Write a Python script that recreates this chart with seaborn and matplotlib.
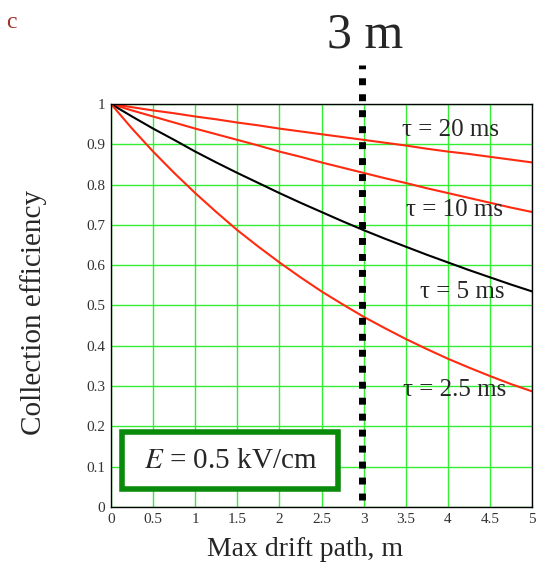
import pandas as pd
import seaborn as sns
import matplotlib.pyplot as plt
from matplotlib.patches import Rectangle

# values
drift = [0, 0.25, 0.5, 0.75, 1, 1.25, 1.5, 1.75, 2, 2.25, 2.5,
         2.75, 3, 3.25, 3.5, 3.75, 4, 4.25, 4.5, 4.75, 5]
eff_20ms = [1, 0.992, 0.984, 0.977, 0.969, 0.962, 0.954, 0.947, 0.939, 0.932, 0.925,
            0.918, 0.911, 0.904, 0.897, 0.889, 0.882, 0.876, 0.869, 0.862, 0.855]
eff_10ms = [1, 0.984, 0.969, 0.954, 0.939, 0.925, 0.911, 0.897, 0.882, 0.869, 0.855,
            0.842, 0.829, 0.816, 0.804, 0.791, 0.779, 0.767, 0.755, 0.743, 0.732]
eff_5ms = [1, 0.969, 0.939, 0.911, 0.882, 0.855, 0.829, 0.804, 0.779, 0.755, 0.732,
           0.709, 0.687, 0.666, 0.646, 0.626, 0.607, 0.588, 0.570, 0.552, 0.535]
eff_2p5ms = [1, 0.939, 0.882, 0.829, 0.779, 0.732, 0.687, 0.646, 0.607, 0.570, 0.535,
             0.503, 0.472, 0.444, 0.417, 0.392, 0.368, 0.346, 0.325, 0.305, 0.287]

x_ticks = [0, 0.5, 1, 1.5, 2, 2.5, 3, 3.5, 4, 4.5, 5]
x_tick_labels = ["0", "0.5", "1", "1.5", "2", "2.5", "3", "3.5", "4", "4.5", "5"]
y_ticks = [0, 0.1, 0.2, 0.3, 0.4, 0.5, 0.6, 0.7, 0.8, 0.9, 1]
y_tick_labels = ["0", "0.1", "0.2", "0.3", "0.4", "0.5", "0.6", "0.7", "0.8", "0.9", "1"]

marker_x = 2.98

sns.set_theme(style="white")
plt.rcParams["font.family"] = ["Liberation Serif", "DejaVu Serif"]
plt.rcParams["mathtext.fontset"] = "stix"

fig = plt.figure(figsize=(5.46, 5.68), dpi=100)
ax = fig.add_axes([0.2033, 0.1074, 0.7711, 0.7095])

red = "#ff2a10"
sns.lineplot(x=drift, y=eff_20ms, color=red, lw=1.5, ax=ax)
sns.lineplot(x=drift, y=eff_10ms, color=red, lw=1.5, ax=ax)
sns.lineplot(x=drift, y=eff_5ms, color="black", lw=1.5, ax=ax)
sns.lineplot(x=drift, y=eff_2p5ms, color=red, lw=1.5, ax=ax)

ax.set_xlim(0, 5)
ax.set_ylim(0, 1)
ax.set_xticks(x_ticks)
ax.set_xticklabels(x_tick_labels)
ax.set_yticks(y_ticks)
ax.set_yticklabels(y_tick_labels)
ax.tick_params(length=0, labelsize=11, labelcolor="#333333", pad=4)
ax.grid(True, color="#33ee33", lw=1)
ax.set_axisbelow(True)
for s in ax.spines.values():
    s.set_color("black")
    s.set_linewidth(1)

ax.set_xlabel("Max drift path, m", fontsize=20)
ax.set_ylabel("Collection efficiency", fontsize=21)
ax.xaxis.set_label_coords(0.46, -0.075)
ax.yaxis.set_label_coords(-0.152, 0.484)

# tau labels
txt = dict(fontsize=18, ha="center", va="center")
ax.text(4.03, 0.935, "τ = 20 ms", **txt)
ax.text(4.08, 0.737, "τ = 10 ms", **txt)
ax.text(4.17, 0.533, "τ = 5 ms", **txt)
ax.text(4.08, 0.29, "τ = 2.5 ms", **txt)

# dotted 3 m marker
ax.plot([marker_x, marker_x], [0.017, 1.097], color="black", lw=5,
        linestyle=(0, (1, 1.3)), dash_capstyle="butt", clip_on=False, zorder=5)
ax.text(3.02, 1.139, "3 m", fontsize=36, ha="center", va="baseline",
        transform=ax.get_xaxis_transform(), clip_on=False)

# field box
ax.add_patch(Rectangle((0.13, 0.045), 2.57, 0.141, facecolor="white",
                       edgecolor="#0a8a0a", lw=4, zorder=4))
ax.text(1.415, 0.115, "$E$ = 0.5 kV/cm", fontsize=21, ha="center", va="center", zorder=6)

fig.text(0.012, 0.96, "c", fontsize=17, color="#a0302a", va="center")

fig.savefig("out.png", dpi=100)
